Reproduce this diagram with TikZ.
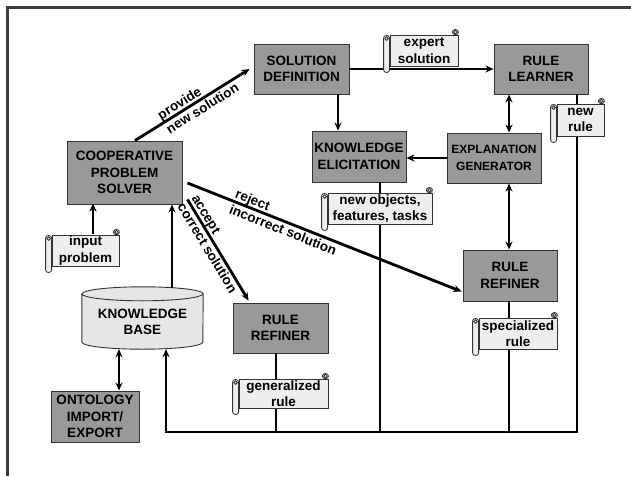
\documentclass[tikz,border=0pt]{standalone}
\usepackage{fontspec}
\setmainfont{Liberation Sans}
\usetikzlibrary{arrows.meta,calc}
\definecolor{boxgray}{HTML}{999999}
\definecolor{boxline}{HTML}{333333}
\definecolor{scrollfill}{HTML}{EEEEEE}
\definecolor{kbfill}{HTML}{E6E6E6}
\definecolor{framecol}{HTML}{3C3C3C}
\newcommand\myscroll[6]{%
  \node[scrollbody, minimum width=#4, minimum height=#5] (#1) at (#2,#3) {#6};
  \draw[scrolldeco, rounded corners=2.5pt] ([shift={(-6pt,-1pt)}]#1.north west) rectangle ([yshift=-6pt]#1.south west);
  \draw[scrolldeco] ([xshift=-3pt,yshift=-4pt]#1.north west) circle (1.8pt);
  \draw[scrolldeco, rounded corners=2.5pt] ([xshift=-6pt]#1.north east) rectangle ([yshift=5pt]#1.north east);
  \draw[scrolldeco] ([xshift=-3pt,yshift=2.5pt]#1.north east) circle (1.8pt);
}
\begin{document}
\begin{tikzpicture}[x=1pt,y=-1pt,
  txt/.style={font=\bfseries\fontsize{13.5}{16.5}\selectfont},
  box/.style={txt, draw=boxline, fill=boxgray, line width=0.9pt, align=center, inner sep=0pt},
  scrollbody/.style={txt, draw=boxline, fill=scrollfill, line width=0.8pt, align=center, inner sep=0pt},
  scrolldeco/.style={draw=boxline, fill=scrollfill, line width=0.8pt},
  conn/.style={line width=2.8pt, draw=black},
  arr/.style={conn, -{Stealth[length=8pt,width=7pt]}},
  darr/.style={conn, {Stealth[length=8pt,width=7pt]}-{Stealth[length=8pt,width=7pt]}},
  lbl/.style={txt, sloped, align=left, inner sep=0pt},
]
\useasboundingbox (0,0) rectangle (631,476);
\fill[white] (0,0) rectangle (631,476);
\draw[framecol, line width=3.5pt] (7.5,476) -- (7.5,7.5) -- (631,7.5);

% boxes
\node[box, minimum width=115, minimum height=63] (cps) at (124.5,172.5) {COOPERATIVE\\PROBLEM\\SOLVER};
\node[box, minimum width=95, minimum height=50] (sd) at (301.5,69) {SOLUTION\\DEFINITION};
\node[box, minimum width=94, minimum height=50] (rl) at (541,69) {RULE\\LEARNER};
\node[box, minimum width=94, minimum height=51] (ke) at (359,156.5) {KNOWLEDGE\\ELICITATION};
\node[box, minimum width=94, minimum height=50, font=\bfseries\fontsize{12}{16.5}\selectfont] (eg) at (494,158) {EXPLANATION\\GENERATOR};
\node[box, minimum width=94, minimum height=51] (rr2) at (510,275.5) {RULE\\REFINER};
\node[box, minimum width=95, minimum height=50] (rr1) at (280.5,328) {RULE\\REFINER};
\node[box, minimum width=88, minimum height=51] (ont) at (95,416.5) {ONTOLOGY\\IMPORT/\\EXPORT};

% knowledge base cylinder
\node[minimum width=121, minimum height=62, inner sep=0pt] (kb) at (142.5,318) {};
\path[draw=boxline, fill=kbfill, line width=0.9pt] ([yshift=-7pt]kb.north west) -- ([yshift=7pt]kb.south west)
  arc[start angle=180, end angle=360, x radius=60.5pt, y radius=7pt] -- ([yshift=-7pt]kb.north east)
  arc[start angle=0, end angle=180, x radius=60.5pt, y radius=7pt] -- cycle;
\draw[boxline, line width=0.9pt] ([yshift=-7pt]kb.north west) arc[start angle=180, end angle=360, x radius=60.5pt, y radius=7pt];
\node[txt, align=center] (kbtext) at ([yshift=-4pt]kb.center) {KNOWLEDGE\\BASE};

\coordinate (cb) at (166,432);

% connectors
\draw[arr] ([xshift=10.5pt]cps.north) -- node[lbl, pos=0.55] {provide\\new solution} ([xshift=-4pt]sd.west);
\draw[arr] ([shift={(5pt,5pt)}]cps.south east) -- node[lbl, pos=0.44] {accept\\correct solution} ([xshift=16pt,yshift=2pt]rr1.north west);
\draw[arr] ([shift={(5pt,-10.5pt)}]cps.east) -- node[lbl, pos=0.36] {reject\\incorrect solution} ([shift={(-1pt,-16pt)}]rr2.west);
\draw[arr] (sd.east) -- (rl.west);
\draw[arr] ([xshift=36.5pt]sd.south) -- ([xshift=36.5pt]sd.south |- ke.north);
\draw[darr] ([xshift=-32pt]rl.south) -- ([xshift=-32pt]rl.south |- eg.north);
\draw[arr] (eg.west) -- (eg.west -| ke.east);
\draw[darr] ([xshift=15pt]eg.south) -- ([xshift=15pt]eg.south |- rr2.north);
\draw[arr] ([xshift=36pt]rl.south) |- (cb) -- (cb |- kb.south);
\draw[conn] ([xshift=-1pt]rr2.south) -- ([xshift=-1pt]rr2.south |- cb);
\draw[conn] ([xshift=21pt]ke.south) -- ([xshift=21pt]ke.south |- cb);
\draw[conn] ([xshift=-4.5pt]rr1.south) -- ([xshift=-4.5pt]rr1.south |- cb);
\draw[arr] ([xshift=29.5pt,yshift=-1pt]kb.north) -- ([xshift=29.5pt]kb.north |- cps.south);
\draw[darr] ([xshift=-23.5pt]kb.south) -- ([xshift=-23.5pt]kb.south |- ont.north);

% scrolls
\myscroll{ip}{85.5}{250.5}{67}{31}{input\\problem}
\myscroll{es}{424}{50.5}{68}{31}{expert\\solution}
\myscroll{nr}{580.5}{120}{47}{32}{new\\rule}
\myscroll{no}{380}{208.5}{104}{31}{new objects,\\features, tasks}
\myscroll{gr}{283.5}{393.5}{89}{29}{generalized\\rule}
\myscroll{sr}{518}{333.5}{78}{31}{specialized\\rule}

\draw[arr] ([xshift=7.5pt,yshift=1pt]ip.north) -- ([xshift=7.5pt,yshift=1pt]ip.north |- cps.south);
\end{tikzpicture}
\end{document}
